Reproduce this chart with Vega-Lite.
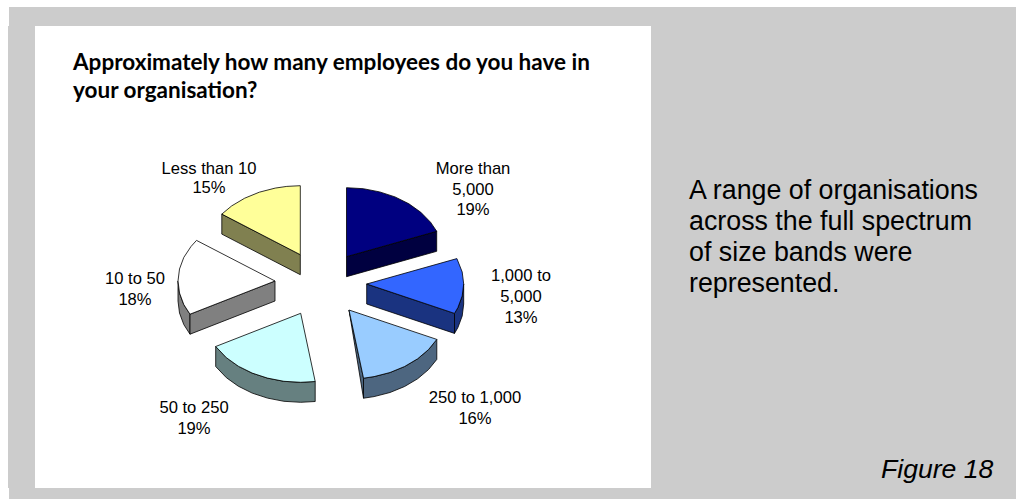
{
  "$schema": "https://vega.github.io/schema/vega-lite/v6.json",
  "autosize": {"type": "fit", "contains": "padding"},
  "width": 1016,
  "height": 499,
  "padding": 0,
  "background": "#ffffff",
  "view": {"stroke": null},
  "datasets": {
    "panels": [
      {"region": "page", "x": 9, "x2": 1016, "y": 7, "y2": 499},
      {"region": "page", "x": 8, "x2": 9, "y": 26, "y2": 488},
      {"region": "plot", "x": 35, "x2": 651, "y": 26, "y2": 488}
    ],
    "faces": [
      {"face":"a_side","i":0,"x":346.5,"y":256.7},{"face":"a_side","i":1,"x":436.7,"y":231.3},{"face":"a_side","i":2,"x":436.7,"y":251.3},{"face":"a_side","i":3,"x":346.5,"y":276.7},{"face":"a_side","i":4,"x":346.5,"y":256.7},
      {"face":"a_top","i":0,"x":346.5,"y":256.7},{"face":"a_top","i":1,"x":346.5,"y":187.7},{"face":"a_top","i":2,"x":363.3,"y":188.7},{"face":"a_top","i":3,"x":379.7,"y":191.9},{"face":"a_top","i":4,"x":395,"y":196.9},{"face":"a_top","i":5,"x":408.9,"y":203.8},{"face":"a_top","i":6,"x":420.8,"y":212.3},{"face":"a_top","i":7,"x":430.5,"y":222.2},{"face":"a_top","i":8,"x":436.7,"y":231.3},{"face":"a_top","i":9,"x":346.5,"y":256.7},

      {"face":"b_side","i":0,"x":463.7,"y":284},{"face":"b_side","i":1,"x":462.2,"y":296},{"face":"b_side","i":2,"x":457.9,"y":307.6},{"face":"b_side","i":3,"x":454.5,"y":313.4},{"face":"b_side","i":4,"x":454.5,"y":333.4},{"face":"b_side","i":5,"x":457.9,"y":327.6},{"face":"b_side","i":6,"x":462.2,"y":316},{"face":"b_side","i":7,"x":463.7,"y":304},{"face":"b_side","i":8,"x":463.7,"y":284},
      {"face":"b_side2","i":0,"x":366.7,"y":284},{"face":"b_side2","i":1,"x":454.5,"y":313.4},{"face":"b_side2","i":2,"x":454.5,"y":333.4},{"face":"b_side2","i":3,"x":366.7,"y":304},{"face":"b_side2","i":4,"x":366.7,"y":284},
      {"face":"b_top","i":0,"x":366.7,"y":284},{"face":"b_top","i":1,"x":456.9,"y":258.6},{"face":"b_top","i":2,"x":462.2,"y":272},{"face":"b_top","i":3,"x":463.7,"y":284},{"face":"b_top","i":4,"x":462.2,"y":296},{"face":"b_top","i":5,"x":457.9,"y":307.6},{"face":"b_top","i":6,"x":454.5,"y":313.4},{"face":"b_top","i":7,"x":366.7,"y":284},

      {"face":"c_side","i":0,"x":349,"y":310},{"face":"c_side","i":1,"x":363.5,"y":378.2},{"face":"c_side","i":2,"x":363.5,"y":398.2},{"face":"c_side","i":3,"x":349,"y":310},
      {"face":"c_side2","i":0,"x":436.8,"y":339.4},{"face":"c_side2","i":1,"x":428.5,"y":349.6},{"face":"c_side2","i":2,"x":417.6,"y":358.8},{"face":"c_side2","i":3,"x":404.6,"y":366.5},{"face":"c_side2","i":4,"x":390,"y":372.5},{"face":"c_side2","i":5,"x":374.1,"y":376.6},{"face":"c_side2","i":6,"x":363.5,"y":378.2},{"face":"c_side2","i":7,"x":363.5,"y":398.2},{"face":"c_side2","i":8,"x":374.1,"y":396.6},{"face":"c_side2","i":9,"x":390,"y":392.5},{"face":"c_side2","i":10,"x":404.6,"y":386.5},{"face":"c_side2","i":11,"x":417.6,"y":378.8},{"face":"c_side2","i":12,"x":428.5,"y":369.6},{"face":"c_side2","i":13,"x":436.8,"y":359.4},{"face":"c_side2","i":14,"x":436.8,"y":339.4},
      {"face":"c_top","i":0,"x":349,"y":310},{"face":"c_top","i":1,"x":436.8,"y":339.4},{"face":"c_top","i":2,"x":428.5,"y":349.6},{"face":"c_top","i":3,"x":417.6,"y":358.8},{"face":"c_top","i":4,"x":404.6,"y":366.5},{"face":"c_top","i":5,"x":390,"y":372.5},{"face":"c_top","i":6,"x":374.1,"y":376.6},{"face":"c_top","i":7,"x":363.5,"y":378.2},{"face":"c_top","i":8,"x":349,"y":310},

      {"face":"d_side","i":0,"x":315.2,"y":381.5},{"face":"d_side","i":1,"x":300.7,"y":382.3},{"face":"d_side","i":2,"x":283.9,"y":381.3},{"face":"d_side","i":3,"x":267.5,"y":378.1},{"face":"d_side","i":4,"x":252.2,"y":373.1},{"face":"d_side","i":5,"x":238.3,"y":366.2},{"face":"d_side","i":6,"x":226.4,"y":357.7},{"face":"d_side","i":7,"x":215.7,"y":346.5},{"face":"d_side","i":8,"x":215.7,"y":366.5},{"face":"d_side","i":9,"x":226.4,"y":377.7},{"face":"d_side","i":10,"x":238.3,"y":386.2},{"face":"d_side","i":11,"x":252.2,"y":393.1},{"face":"d_side","i":12,"x":267.5,"y":398.1},{"face":"d_side","i":13,"x":283.9,"y":401.3},{"face":"d_side","i":14,"x":300.7,"y":402.3},{"face":"d_side","i":15,"x":315.2,"y":401.5},{"face":"d_side","i":16,"x":315.2,"y":381.5},
      {"face":"d_top","i":0,"x":300.7,"y":313.3},{"face":"d_top","i":1,"x":315.2,"y":381.5},{"face":"d_top","i":2,"x":300.7,"y":382.3},{"face":"d_top","i":3,"x":283.9,"y":381.3},{"face":"d_top","i":4,"x":267.5,"y":378.1},{"face":"d_top","i":5,"x":252.2,"y":373.1},{"face":"d_top","i":6,"x":238.3,"y":366.2},{"face":"d_top","i":7,"x":226.4,"y":357.7},{"face":"d_top","i":8,"x":215.7,"y":346.5},{"face":"d_top","i":9,"x":300.7,"y":313.3},

      {"face":"e_side","i":0,"x":178,"y":281},{"face":"e_side","i":1,"x":179.5,"y":293},{"face":"e_side","i":2,"x":183.8,"y":304.6},{"face":"e_side","i":3,"x":190,"y":314.2},{"face":"e_side","i":4,"x":190,"y":334.2},{"face":"e_side","i":5,"x":183.8,"y":324.6},{"face":"e_side","i":6,"x":179.5,"y":313},{"face":"e_side","i":7,"x":178,"y":301},{"face":"e_side","i":8,"x":178,"y":281},
      {"face":"e_side2","i":0,"x":275,"y":281},{"face":"e_side2","i":1,"x":190,"y":314.2},{"face":"e_side2","i":2,"x":190,"y":334.2},{"face":"e_side2","i":3,"x":275,"y":301},{"face":"e_side2","i":4,"x":275,"y":281},
      {"face":"e_top","i":0,"x":275,"y":281},{"face":"e_top","i":1,"x":190,"y":314.2},{"face":"e_top","i":2,"x":183.8,"y":304.6},{"face":"e_top","i":3,"x":179.5,"y":293},{"face":"e_top","i":4,"x":178,"y":281},{"face":"e_top","i":5,"x":179.5,"y":269},{"face":"e_top","i":6,"x":183.8,"y":257.4},{"face":"e_top","i":7,"x":191,"y":246.5},{"face":"e_top","i":8,"x":196.5,"y":240.4},{"face":"e_top","i":9,"x":275,"y":281},

      {"face":"f_side","i":0,"x":300.3,"y":254.7},{"face":"f_side","i":1,"x":221.8,"y":214.1},{"face":"f_side","i":2,"x":221.8,"y":234.1},{"face":"f_side","i":3,"x":300.3,"y":274.7},{"face":"f_side","i":4,"x":300.3,"y":254.7},
      {"face":"f_top","i":0,"x":300.3,"y":254.7},{"face":"f_top","i":1,"x":221.8,"y":214.1},{"face":"f_top","i":2,"x":231.7,"y":205.9},{"face":"f_top","i":3,"x":244.7,"y":198.2},{"face":"f_top","i":4,"x":259.3,"y":192.2},{"face":"f_top","i":5,"x":275.2,"y":188.1},{"face":"f_top","i":6,"x":286.8,"y":186.4},{"face":"f_top","i":7,"x":300.3,"y":185.7},{"face":"f_top","i":8,"x":300.3,"y":254.7}
    ],
    "sliceLabels": [
      {"text":"More than","x":473,"y":174},{"text":"5,000","x":473,"y":195},{"text":"19%","x":473,"y":215},
      {"text":"1,000 to","x":521,"y":281},{"text":"5,000","x":521,"y":302},{"text":"13%","x":521,"y":323},
      {"text":"250 to 1,000","x":475,"y":403},{"text":"16%","x":475,"y":424},
      {"text":"50 to 250","x":194,"y":413},{"text":"19%","x":194,"y":434},
      {"text":"10 to 50","x":135,"y":284},{"text":"18%","x":135,"y":305},
      {"text":"Less than 10","x":209,"y":174},{"text":"15%","x":209,"y":193}
    ],
    "titleLines": [
      {"text":"Approximately how many employees do you have in","x":73,"y":70},
      {"text":"your organisation?","x":73,"y":98}
    ],
    "notes": [
      {"text":"A range of organisations","x":689,"y":199},
      {"text":"across the full spectrum","x":689,"y":230},
      {"text":"of size bands were","x":689,"y":261},
      {"text":"represented.","x":689,"y":292}
    ],
    "captions": [
      {"text":"Figure 18","x":881,"y":478}
    ]
  },
  "encoding": {
    "x": {"field": "x", "type": "quantitative", "axis": null, "scale": {"domain": [0, 1016], "nice": false, "zero": false}},
    "y": {"field": "y", "type": "quantitative", "axis": null, "scale": {"domain": [499, 0], "nice": false, "zero": false}}
  },
  "layer": [
    {
      "data": {"name": "panels"},
      "mark": {"type": "rect"},
      "encoding": {
        "x2": {"field": "x2"},
        "y2": {"field": "y2"},
        "color": {"field": "region", "type": "nominal", "legend": null,
          "scale": {"domain": ["page", "plot"], "range": ["#cccccc", "#ffffff"]}}
      }
    },
    {
      "data": {"name": "faces"},
      "mark": {"type": "line", "stroke": "#000000", "strokeWidth": 0.8, "strokeJoin": "miter"},
      "encoding": {
        "order": {"field": "i", "type": "quantitative"},
        "fill": {"field": "face", "type": "nominal", "legend": null,
          "scale": {
            "domain": ["a_side","a_top","b_side","b_side2","b_top","c_side","c_side2","c_top","d_side","d_top","e_side","e_side2","e_top","f_side","f_top"],
            "range": ["#000040","#000080","#1a3380","#1a3380","#3366ff","#4d6680","#4d6680","#99ccff","#668080","#ccffff","#808080","#808080","#ffffff","#808050","#ffff99"]
          }}
      }
    },
    {
      "data": {"name": "sliceLabels"},
      "mark": {"type": "text", "font": "Liberation Sans", "fontSize": 16.6, "align": "center", "baseline": "alphabetic", "color": "#000000"},
      "encoding": {"text": {"field": "text"}}
    },
    {
      "data": {"name": "titleLines"},
      "mark": {"type": "text", "font": "Lato", "fontWeight": "bold", "fontSize": 22.5, "align": "left", "baseline": "alphabetic", "color": "#000000"},
      "encoding": {"text": {"field": "text"}}
    },
    {
      "data": {"name": "notes"},
      "mark": {"type": "text", "font": "Liberation Sans", "fontSize": 26.8, "align": "left", "baseline": "alphabetic", "color": "#000000"},
      "encoding": {"text": {"field": "text"}}
    },
    {
      "data": {"name": "captions"},
      "mark": {"type": "text", "font": "Liberation Sans", "fontStyle": "italic", "fontSize": 26.6, "align": "left", "baseline": "alphabetic", "color": "#000000"},
      "encoding": {"text": {"field": "text"}}
    }
  ]
}
